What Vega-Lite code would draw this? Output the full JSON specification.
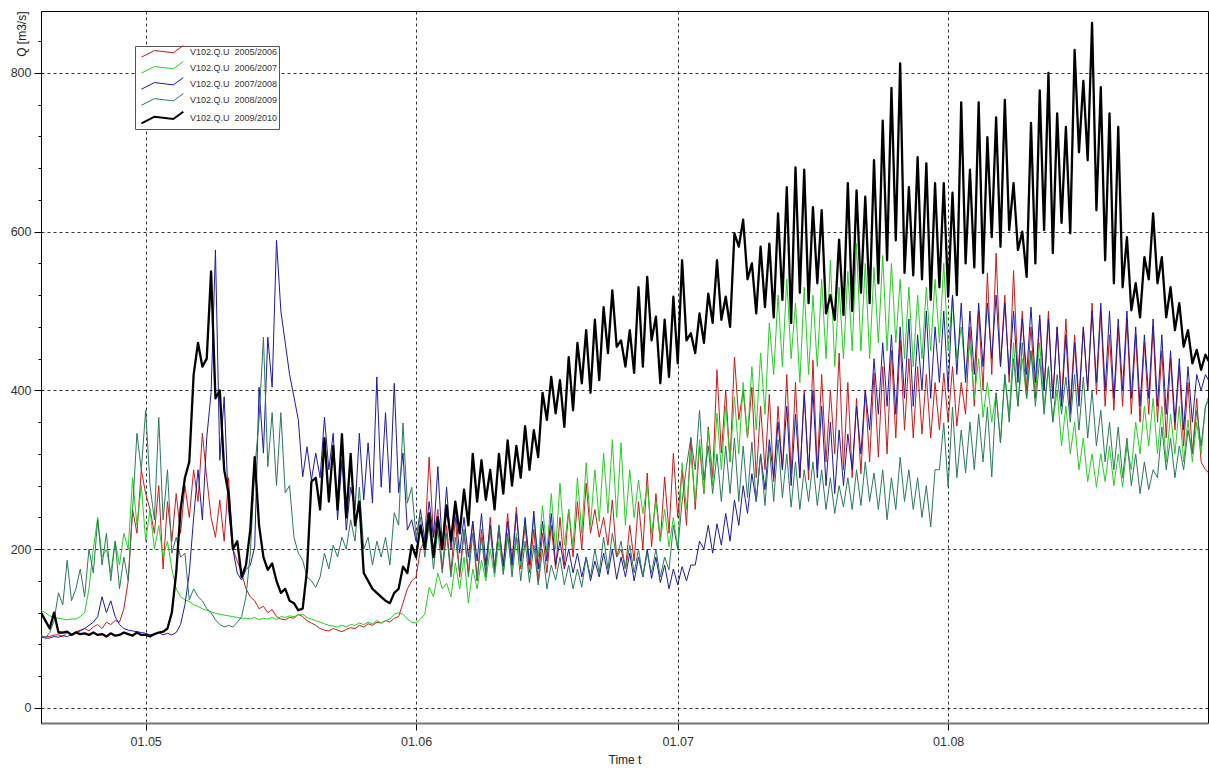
{
"$schema": "https://vega.github.io/schema/vega-lite/v6.json",
"width": 1167, "height": 712,
"autosize": {"type": "none"},
"padding": {"left": 41, "top": 11, "right": 1, "bottom": 47},
"background": "white",
"config": {"view": {"stroke": "#000", "strokeWidth": 1}, "font": "Liberation Sans"},
"data": {"values": [
{"t":"2010-04-19T00:00","a":88,"b":123,"c":90,"d":92,"e":120},{"t":"2010-04-19T12:00","a":90,"b":120,"c":88,"d":88,"e":110},
{"t":"2010-04-20T00:00","a":90,"b":116,"c":88,"d":95,"e":100},{"t":"2010-04-20T12:00","a":92,"b":114,"c":90,"d":110,"e":120},
{"t":"2010-04-21T00:00","a":92,"b":113,"c":89,"d":145,"e":95},{"t":"2010-04-21T12:00","a":90,"b":112,"c":91,"d":130,"e":95},
{"t":"2010-04-22T00:00","a":95,"b":111,"c":90,"d":186,"e":96},{"t":"2010-04-22T12:00","a":93,"b":112,"c":92,"d":135,"e":92},
{"t":"2010-04-23T00:00","a":96,"b":112,"c":95,"d":150,"e":95},{"t":"2010-04-23T12:00","a":98,"b":115,"c":97,"d":175,"e":93},
{"t":"2010-04-24T00:00","a":100,"b":120,"c":100,"d":140,"e":94},{"t":"2010-04-24T12:00","a":97,"b":150,"c":104,"d":200,"e":92},
{"t":"2010-04-25T00:00","a":102,"b":200,"c":108,"d":170,"e":95},{"t":"2010-04-25T12:00","a":105,"b":240,"c":115,"d":237,"e":92},
{"t":"2010-04-26T00:00","a":100,"b":190,"c":140,"d":180,"e":93},{"t":"2010-04-26T12:00","a":108,"b":200,"c":120,"d":220,"e":90},
{"t":"2010-04-27T00:00","a":105,"b":170,"c":135,"d":160,"e":94},{"t":"2010-04-27T12:00","a":110,"b":210,"c":115,"d":210,"e":91},
{"t":"2010-04-28T00:00","a":108,"b":180,"c":105,"d":150,"e":92},{"t":"2010-04-28T12:00","a":125,"b":220,"c":100,"d":190,"e":95},
{"t":"2010-04-29T00:00","a":160,"b":200,"c":98,"d":160,"e":93},{"t":"2010-04-29T12:00","a":250,"b":290,"c":97,"d":250,"e":91},
{"t":"2010-04-30T00:00","a":220,"b":230,"c":96,"d":346,"e":95},{"t":"2010-04-30T12:00","a":300,"b":280,"c":95,"d":300,"e":92},
{"t":"2010-05-01T00:00","a":270,"b":210,"c":94,"d":375,"e":92},{"t":"2010-05-01T12:00","a":250,"b":250,"c":92,"d":280,"e":90},
{"t":"2010-05-02T00:00","a":220,"b":200,"c":93,"d":237,"e":93},{"t":"2010-05-02T12:00","a":280,"b":230,"c":95,"d":366,"e":95},
{"t":"2010-05-03T00:00","a":175,"b":190,"c":92,"d":237,"e":96},{"t":"2010-05-03T12:00","a":260,"b":210,"c":94,"d":300,"e":100},
{"t":"2010-05-04T00:00","a":210,"b":175,"c":92,"d":195,"e":120},{"t":"2010-05-04T12:00","a":270,"b":150,"c":95,"d":215,"e":170},
{"t":"2010-05-05T00:00","a":220,"b":140,"c":105,"d":190,"e":250},{"t":"2010-05-05T12:00","a":280,"b":136,"c":130,"d":195,"e":290},
{"t":"2010-05-06T00:00","a":240,"b":134,"c":170,"d":136,"e":310},{"t":"2010-05-06T12:00","a":300,"b":130,"c":240,"d":150,"e":420},
{"t":"2010-05-07T00:00","a":260,"b":128,"c":300,"d":140,"e":460},{"t":"2010-05-07T12:00","a":346,"b":125,"c":237,"d":135,"e":430},
{"t":"2010-05-08T00:00","a":290,"b":123,"c":340,"d":125,"e":440},{"t":"2010-05-08T12:00","a":240,"b":121,"c":397,"d":120,"e":550},
{"t":"2010-05-09T00:00","a":215,"b":119,"c":577,"d":111,"e":390},{"t":"2010-05-09T12:00","a":262,"b":118,"c":312,"d":105,"e":400},
{"t":"2010-05-10T00:00","a":210,"b":117,"c":392,"d":102,"e":300},{"t":"2010-05-10T12:00","a":290,"b":116,"c":250,"d":104,"e":270},
{"t":"2010-05-11T00:00","a":200,"b":115,"c":200,"d":102,"e":200},{"t":"2010-05-11T12:00","a":185,"b":114,"c":170,"d":108,"e":210},
{"t":"2010-05-12T00:00","a":170,"b":113,"c":161,"d":115,"e":165},{"t":"2010-05-12T12:00","a":150,"b":113,"c":174,"d":140,"e":180},
{"t":"2010-05-13T00:00","a":140,"b":112,"c":180,"d":195,"e":225},{"t":"2010-05-13T12:00","a":135,"b":114,"c":203,"d":300,"e":316},
{"t":"2010-05-14T00:00","a":125,"b":111,"c":404,"d":363,"e":230},{"t":"2010-05-14T12:00","a":128,"b":113,"c":321,"d":467,"e":190},
{"t":"2010-05-15T00:00","a":120,"b":112,"c":467,"d":304,"e":174},{"t":"2010-05-15T12:00","a":124,"b":114,"c":404,"d":372,"e":182},
{"t":"2010-05-16T00:00","a":115,"b":111,"c":589,"d":280,"e":160},{"t":"2010-05-16T12:00","a":112,"b":115,"c":500,"d":372,"e":145},
{"t":"2010-05-17T00:00","a":111,"b":114,"c":460,"d":271,"e":150},{"t":"2010-05-17T12:00","a":114,"b":116,"c":420,"d":280,"e":135},
{"t":"2010-05-18T00:00","a":113,"b":115,"c":392,"d":215,"e":132},{"t":"2010-05-18T12:00","a":118,"b":117,"c":363,"d":195,"e":123},
{"t":"2010-05-19T00:00","a":115,"b":118,"c":291,"d":186,"e":125},{"t":"2010-05-19T12:00","a":110,"b":114,"c":329,"d":165,"e":174},
{"t":"2010-05-20T00:00","a":107,"b":112,"c":287,"d":160,"e":285},{"t":"2010-05-20T12:00","a":104,"b":110,"c":321,"d":152,"e":290},
{"t":"2010-05-21T00:00","a":100,"b":108,"c":290,"d":165,"e":250},{"t":"2010-05-21T12:00","a":98,"b":106,"c":366,"d":195,"e":340},
{"t":"2010-05-22T00:00","a":97,"b":104,"c":300,"d":175,"e":260},{"t":"2010-05-22T12:00","a":100,"b":103,"c":346,"d":205,"e":330},
{"t":"2010-05-23T00:00","a":98,"b":102,"c":237,"d":190,"e":250},{"t":"2010-05-23T12:00","a":96,"b":104,"c":312,"d":215,"e":345},
{"t":"2010-05-24T00:00","a":99,"b":102,"c":224,"d":200,"e":240},{"t":"2010-05-24T12:00","a":101,"b":105,"c":278,"d":237,"e":320},
{"t":"2010-05-25T00:00","a":100,"b":104,"c":249,"d":210,"e":230},{"t":"2010-05-25T12:00","a":104,"b":107,"c":346,"d":278,"e":260},
{"t":"2010-05-26T00:00","a":102,"b":105,"c":262,"d":200,"e":170},{"t":"2010-05-26T12:00","a":106,"b":108,"c":334,"d":215,"e":160},
{"t":"2010-05-27T00:00","a":104,"b":106,"c":258,"d":180,"e":150},{"t":"2010-05-27T12:00","a":108,"b":110,"c":417,"d":210,"e":145},
{"t":"2010-05-28T00:00","a":107,"b":107,"c":278,"d":190,"e":140},{"t":"2010-05-28T12:00","a":110,"b":110,"c":372,"d":215,"e":135},
{"t":"2010-05-29T00:00","a":108,"b":112,"c":271,"d":180,"e":132},{"t":"2010-05-29T12:00","a":113,"b":118,"c":409,"d":246,"e":145},
{"t":"2010-05-30T00:00","a":115,"b":120,"c":271,"d":230,"e":150},{"t":"2010-05-30T12:00","a":132,"b":118,"c":321,"d":359,"e":178},
{"t":"2010-05-31T00:00","a":150,"b":112,"c":224,"d":258,"e":170},{"t":"2010-05-31T12:00","a":160,"b":108,"c":237,"d":278,"e":205},
{"t":"2010-06-01T00:00","a":165,"b":107,"c":210,"d":215,"e":190},{"t":"2010-06-01T12:00","a":200,"b":112,"c":250,"d":240,"e":230},
{"t":"2010-06-02T00:00","a":210,"b":118,"c":212,"d":190,"e":200},{"t":"2010-06-02T12:00","a":316,"b":152,"c":260,"d":230,"e":245},
{"t":"2010-06-03T00:00","a":215,"b":140,"c":215,"d":175,"e":190},{"t":"2010-06-03T12:00","a":250,"b":170,"c":304,"d":225,"e":240},
{"t":"2010-06-04T00:00","a":175,"b":150,"c":203,"d":170,"e":200},{"t":"2010-06-04T12:00","a":230,"b":157,"c":278,"d":220,"e":255},
{"t":"2010-06-05T00:00","a":170,"b":140,"c":200,"d":165,"e":210},{"t":"2010-06-05T12:00","a":240,"b":183,"c":250,"d":215,"e":260},
{"t":"2010-06-06T00:00","a":165,"b":150,"c":195,"d":170,"e":220},{"t":"2010-06-06T12:00","a":220,"b":190,"c":240,"d":225,"e":275},
{"t":"2010-06-07T00:00","a":170,"b":132,"c":190,"d":165,"e":230},{"t":"2010-06-07T12:00","a":235,"b":175,"c":235,"d":220,"e":320},
{"t":"2010-06-08T00:00","a":160,"b":150,"c":185,"d":160,"e":260},{"t":"2010-06-08T12:00","a":225,"b":186,"c":245,"d":215,"e":312},
{"t":"2010-06-09T00:00","a":170,"b":160,"c":180,"d":165,"e":262},{"t":"2010-06-09T12:00","a":240,"b":200,"c":230,"d":225,"e":300},
{"t":"2010-06-10T00:00","a":175,"b":165,"c":175,"d":170,"e":250},{"t":"2010-06-10T12:00","a":230,"b":210,"c":225,"d":230,"e":320},
{"t":"2010-06-11T00:00","a":180,"b":170,"c":178,"d":168,"e":270},{"t":"2010-06-11T12:00","a":245,"b":215,"c":235,"d":220,"e":337},
{"t":"2010-06-12T00:00","a":185,"b":175,"c":180,"d":165,"e":280},{"t":"2010-06-12T12:00","a":253,"b":220,"c":245,"d":215,"e":330},
{"t":"2010-06-13T00:00","a":175,"b":180,"c":185,"d":160,"e":290},{"t":"2010-06-13T12:00","a":230,"b":237,"c":240,"d":210,"e":355},
{"t":"2010-06-14T00:00","a":170,"b":185,"c":180,"d":158,"e":300},{"t":"2010-06-14T12:00","a":225,"b":240,"c":248,"d":205,"e":350},
{"t":"2010-06-15T00:00","a":160,"b":190,"c":175,"d":155,"e":316},{"t":"2010-06-15T12:00","a":220,"b":255,"c":235,"d":200,"e":397},
{"t":"2010-06-16T00:00","a":170,"b":195,"c":185,"d":150,"e":363},{"t":"2010-06-16T12:00","a":230,"b":270,"c":245,"d":180,"e":417},
{"t":"2010-06-17T00:00","a":175,"b":200,"c":180,"d":161,"e":371},{"t":"2010-06-17T12:00","a":240,"b":283,"c":210,"d":190,"e":413},
{"t":"2010-06-18T00:00","a":180,"b":205,"c":175,"d":155,"e":354},{"t":"2010-06-18T12:00","a":250,"b":250,"c":200,"d":180,"e":442},
{"t":"2010-06-19T00:00","a":190,"b":203,"c":170,"d":150,"e":375},{"t":"2010-06-19T12:00","a":260,"b":290,"c":195,"d":175,"e":460},
{"t":"2010-06-20T00:00","a":200,"b":220,"c":165,"d":152,"e":409},{"t":"2010-06-20T12:00","a":283,"b":309,"c":190,"d":190,"e":476},
{"t":"2010-06-21T00:00","a":220,"b":230,"c":160,"d":165,"e":397},{"t":"2010-06-21T12:00","a":250,"b":300,"c":185,"d":200,"e":489},
{"t":"2010-06-22T00:00","a":215,"b":235,"c":165,"d":170,"e":413},{"t":"2010-06-22T12:00","a":240,"b":321,"c":195,"d":215,"e":505},
{"t":"2010-06-23T00:00","a":205,"b":245,"c":168,"d":175,"e":447},{"t":"2010-06-23T12:00","a":262,"b":338,"c":200,"d":220,"e":526},
{"t":"2010-06-24T00:00","a":190,"b":240,"c":162,"d":190,"e":455},{"t":"2010-06-24T12:00","a":200,"b":334,"c":190,"d":210,"e":463},
{"t":"2010-06-25T00:00","a":175,"b":230,"c":165,"d":175,"e":430},{"t":"2010-06-25T12:00","a":230,"b":300,"c":195,"d":205,"e":476},
{"t":"2010-06-26T00:00","a":185,"b":240,"c":160,"d":170,"e":422},{"t":"2010-06-26T12:00","a":260,"b":287,"c":190,"d":200,"e":530},
{"t":"2010-06-27T00:00","a":200,"b":245,"c":165,"d":165,"e":430},{"t":"2010-06-27T12:00","a":296,"b":280,"c":200,"d":195,"e":543},
{"t":"2010-06-28T00:00","a":203,"b":220,"c":163,"d":170,"e":463},{"t":"2010-06-28T12:00","a":270,"b":260,"c":190,"d":200,"e":493},
{"t":"2010-06-29T00:00","a":210,"b":210,"c":158,"d":165,"e":409},{"t":"2010-06-29T12:00","a":291,"b":250,"c":180,"d":190,"e":489},
{"t":"2010-06-30T00:00","a":220,"b":203,"c":150,"d":174,"e":417},{"t":"2010-06-30T12:00","a":321,"b":240,"c":175,"d":230,"e":518},
{"t":"2010-07-01T00:00","a":240,"b":200,"c":155,"d":200,"e":434},{"t":"2010-07-01T12:00","a":300,"b":309,"c":178,"d":260,"e":564},
{"t":"2010-07-02T00:00","a":230,"b":250,"c":160,"d":304,"e":463},{"t":"2010-07-02T12:00","a":341,"b":320,"c":180,"d":340,"e":472},
{"t":"2010-07-03T00:00","a":250,"b":260,"c":180,"d":300,"e":447},{"t":"2010-07-03T12:00","a":330,"b":338,"c":210,"d":375,"e":497},
{"t":"2010-07-04T00:00","a":270,"b":270,"c":200,"d":287,"e":460},{"t":"2010-07-04T12:00","a":354,"b":350,"c":230,"d":330,"e":522},
{"t":"2010-07-05T00:00","a":290,"b":280,"c":195,"d":270,"e":485},{"t":"2010-07-05T12:00","a":426,"b":371,"c":232,"d":320,"e":564},
{"t":"2010-07-06T00:00","a":321,"b":300,"c":205,"d":260,"e":489},{"t":"2010-07-06T12:00","a":400,"b":380,"c":245,"d":330,"e":518},
{"t":"2010-07-07T00:00","a":310,"b":310,"c":210,"d":270,"e":480},{"t":"2010-07-07T12:00","a":442,"b":392,"c":262,"d":340,"e":598},
{"t":"2010-07-08T00:00","a":363,"b":320,"c":230,"d":260,"e":581},{"t":"2010-07-08T12:00","a":400,"b":410,"c":280,"d":330,"e":615},
{"t":"2010-07-09T00:00","a":340,"b":340,"c":245,"d":265,"e":540},{"t":"2010-07-09T12:00","a":404,"b":430,"c":295,"d":335,"e":560},
{"t":"2010-07-10T00:00","a":290,"b":350,"c":260,"d":260,"e":497},{"t":"2010-07-10T12:00","a":380,"b":447,"c":320,"d":320,"e":581},
{"t":"2010-07-11T00:00","a":300,"b":370,"c":275,"d":255,"e":505},{"t":"2010-07-11T12:00","a":395,"b":485,"c":338,"d":330,"e":585},
{"t":"2010-07-12T00:00","a":285,"b":420,"c":290,"d":260,"e":492},{"t":"2010-07-12T12:00","a":380,"b":520,"c":360,"d":338,"e":623},
{"t":"2010-07-13T00:00","a":300,"b":430,"c":300,"d":265,"e":514},{"t":"2010-07-13T12:00","a":420,"b":540,"c":380,"d":320,"e":656},
{"t":"2010-07-14T00:00","a":295,"b":440,"c":280,"d":253,"e":485},{"t":"2010-07-14T12:00","a":410,"b":510,"c":370,"d":310,"e":681},
{"t":"2010-07-15T00:00","a":290,"b":410,"c":290,"d":250,"e":523},{"t":"2010-07-15T12:00","a":400,"b":530,"c":395,"d":300,"e":678},
{"t":"2010-07-16T00:00","a":287,"b":420,"c":300,"d":260,"e":510},{"t":"2010-07-16T12:00","a":438,"b":520,"c":400,"d":310,"e":631},
{"t":"2010-07-17T00:00","a":300,"b":430,"c":290,"d":255,"e":535},{"t":"2010-07-17T12:00","a":420,"b":540,"c":380,"d":300,"e":627},
{"t":"2010-07-18T00:00","a":310,"b":440,"c":280,"d":250,"e":497},{"t":"2010-07-18T12:00","a":400,"b":564,"c":360,"d":290,"e":520},
{"t":"2010-07-19T00:00","a":320,"b":430,"c":270,"d":245,"e":489},{"t":"2010-07-19T12:00","a":447,"b":530,"c":350,"d":280,"e":590},
{"t":"2010-07-20T00:00","a":300,"b":440,"c":280,"d":253,"e":495},{"t":"2010-07-20T12:00","a":410,"b":550,"c":345,"d":290,"e":661},
{"t":"2010-07-21T00:00","a":290,"b":450,"c":300,"d":250,"e":500},{"t":"2010-07-21T12:00","a":390,"b":585,"c":380,"d":300,"e":652},
{"t":"2010-07-22T00:00","a":295,"b":450,"c":320,"d":255,"e":523},{"t":"2010-07-22T12:00","a":400,"b":560,"c":400,"d":310,"e":644},
{"t":"2010-07-23T00:00","a":310,"b":440,"c":350,"d":260,"e":510},{"t":"2010-07-23T12:00","a":422,"b":555,"c":440,"d":296,"e":690},
{"t":"2010-07-24T00:00","a":316,"b":460,"c":370,"d":250,"e":535},{"t":"2010-07-24T12:00","a":430,"b":570,"c":460,"d":300,"e":740},
{"t":"2010-07-25T00:00","a":320,"b":450,"c":380,"d":237,"e":564},{"t":"2010-07-25T12:00","a":450,"b":560,"c":470,"d":290,"e":781},
{"t":"2010-07-26T00:00","a":340,"b":460,"c":370,"d":250,"e":589},{"t":"2010-07-26T12:00","a":463,"b":540,"c":480,"d":316,"e":812},
{"t":"2010-07-27T00:00","a":350,"b":440,"c":390,"d":260,"e":548},{"t":"2010-07-27T12:00","a":440,"b":530,"c":490,"d":300,"e":656},
{"t":"2010-07-28T00:00","a":340,"b":430,"c":380,"d":250,"e":545},{"t":"2010-07-28T12:00","a":430,"b":520,"c":470,"d":290,"e":694},
{"t":"2010-07-29T00:00","a":345,"b":440,"c":400,"d":240,"e":540},{"t":"2010-07-29T12:00","a":420,"b":530,"c":500,"d":280,"e":686},
{"t":"2010-07-30T00:00","a":340,"b":450,"c":390,"d":228,"e":514},{"t":"2010-07-30T12:00","a":410,"b":540,"c":480,"d":300,"e":661},
{"t":"2010-07-31T00:00","a":350,"b":460,"c":410,"d":300,"e":530},{"t":"2010-07-31T12:00","a":422,"b":560,"c":500,"d":359,"e":661},
{"t":"2010-08-01T00:00","a":360,"b":450,"c":400,"d":278,"e":518},{"t":"2010-08-01T12:00","a":430,"b":520,"c":520,"d":379,"e":649},
{"t":"2010-08-02T00:00","a":355,"b":440,"c":420,"d":290,"e":520},{"t":"2010-08-02T12:00","a":410,"b":480,"c":510,"d":350,"e":763},
{"t":"2010-08-03T00:00","a":370,"b":420,"c":410,"d":296,"e":560},{"t":"2010-08-03T12:00","a":480,"b":460,"c":500,"d":360,"e":678},
{"t":"2010-08-04T00:00","a":380,"b":390,"c":420,"d":300,"e":555},{"t":"2010-08-04T12:00","a":500,"b":440,"c":510,"d":370,"e":763},
{"t":"2010-08-05T00:00","a":400,"b":366,"c":430,"d":310,"e":548},{"t":"2010-08-05T12:00","a":548,"b":410,"c":510,"d":379,"e":719},
{"t":"2010-08-06T00:00","a":420,"b":360,"c":440,"d":291,"e":593},{"t":"2010-08-06T12:00","a":573,"b":397,"c":520,"d":397,"e":744},
{"t":"2010-08-07T00:00","a":430,"b":334,"c":430,"d":334,"e":581},{"t":"2010-08-07T12:00","a":520,"b":420,"c":510,"d":420,"e":766},
{"t":"2010-08-08T00:00","a":410,"b":370,"c":420,"d":360,"e":602},{"t":"2010-08-08T12:00","a":551,"b":460,"c":500,"d":440,"e":661},
{"t":"2010-08-09T00:00","a":420,"b":380,"c":410,"d":380,"e":577},{"t":"2010-08-09T12:00","a":500,"b":440,"c":490,"d":460,"e":600},
{"t":"2010-08-10T00:00","a":400,"b":390,"c":420,"d":390,"e":543},{"t":"2010-08-10T12:00","a":480,"b":450,"c":505,"d":450,"e":737},
{"t":"2010-08-11T00:00","a":390,"b":400,"c":410,"d":380,"e":560},{"t":"2010-08-11T12:00","a":490,"b":460,"c":495,"d":440,"e":778},
{"t":"2010-08-12T00:00","a":400,"b":380,"c":400,"d":370,"e":602},{"t":"2010-08-12T12:00","a":500,"b":430,"c":490,"d":430,"e":800},
{"t":"2010-08-13T00:00","a":390,"b":360,"c":390,"d":360,"e":573},{"t":"2010-08-13T12:00","a":480,"b":400,"c":480,"d":420,"e":749},
{"t":"2010-08-14T00:00","a":385,"b":330,"c":380,"d":370,"e":611},{"t":"2010-08-14T12:00","a":490,"b":380,"c":470,"d":417,"e":732},
{"t":"2010-08-15T00:00","a":380,"b":320,"c":370,"d":360,"e":598},{"t":"2010-08-15T12:00","a":470,"b":360,"c":460,"d":420,"e":829},
{"t":"2010-08-16T00:00","a":390,"b":300,"c":380,"d":350,"e":700},{"t":"2010-08-16T12:00","a":480,"b":340,"c":480,"d":417,"e":790},
{"t":"2010-08-17T00:00","a":400,"b":285,"c":400,"d":340,"e":690},{"t":"2010-08-17T12:00","a":510,"b":320,"c":500,"d":400,"e":863},
{"t":"2010-08-18T00:00","a":395,"b":278,"c":410,"d":330,"e":627},{"t":"2010-08-18T12:00","a":500,"b":320,"c":510,"d":375,"e":782},
{"t":"2010-08-19T00:00","a":380,"b":285,"c":400,"d":310,"e":564},{"t":"2010-08-19T12:00","a":470,"b":330,"c":500,"d":360,"e":749},
{"t":"2010-08-20T00:00","a":375,"b":280,"c":390,"d":300,"e":535},{"t":"2010-08-20T12:00","a":480,"b":320,"c":490,"d":354,"e":732},
{"t":"2010-08-21T00:00","a":380,"b":278,"c":400,"d":290,"e":530},{"t":"2010-08-21T12:00","a":490,"b":330,"c":500,"d":340,"e":593},
{"t":"2010-08-22T00:00","a":370,"b":300,"c":390,"d":280,"e":501},{"t":"2010-08-22T12:00","a":470,"b":360,"c":480,"d":320,"e":535},
{"t":"2010-08-23T00:00","a":360,"b":320,"c":380,"d":270,"e":492},{"t":"2010-08-23T12:00","a":460,"b":380,"c":470,"d":310,"e":568},
{"t":"2010-08-24T00:00","a":370,"b":330,"c":390,"d":275,"e":540},{"t":"2010-08-24T12:00","a":480,"b":390,"c":490,"d":300,"e":623},
{"t":"2010-08-25T00:00","a":360,"b":320,"c":380,"d":290,"e":535},{"t":"2010-08-25T12:00","a":450,"b":380,"c":470,"d":354,"e":568},
{"t":"2010-08-26T00:00","a":340,"b":310,"c":370,"d":300,"e":492},{"t":"2010-08-26T12:00","a":440,"b":370,"c":450,"d":340,"e":530},
{"t":"2010-08-27T00:00","a":350,"b":320,"c":360,"d":290,"e":476},{"t":"2010-08-27T12:00","a":430,"b":380,"c":440,"d":330,"e":510},
{"t":"2010-08-28T00:00","a":330,"b":310,"c":350,"d":300,"e":455},{"t":"2010-08-28T12:00","a":410,"b":363,"c":430,"d":350,"e":476},
{"t":"2010-08-29T00:00","a":320,"b":310,"c":360,"d":320,"e":434},{"t":"2010-08-29T12:00","a":390,"b":360,"c":420,"d":375,"e":451},
{"t":"2010-08-30T00:00","a":310,"b":320,"c":400,"d":330,"e":426},{"t":"2010-08-30T12:00","a":300,"b":380,"c":420,"d":380,"e":445},
{"t":"2010-08-31T00:00","a":295,"b":397,"c":410,"d":390,"e":434}
]},
"transform": [{"fold": ["a", "b", "c", "d", "e"], "as": ["k", "q"]}],
"mark": {"type": "line", "clip": true, "strokeJoin": "round"},
"encoding": {
  "x": {"field": "t", "type": "temporal",
    "scale": {"domain": [{"year": 2010, "month": 4, "date": 19}, {"year": 2010, "month": 8, "date": 30, "hours": 19}]},
    "axis": {"values": [{"year": 2010, "month": 5, "date": 1}, {"year": 2010, "month": 6, "date": 1}, {"year": 2010, "month": 7, "date": 1}, {"year": 2010, "month": 8, "date": 1}],
      "format": "%d.%m", "grid": true, "gridDash": [3, 3], "gridColor": "#000", "gridOpacity": 0.8,
      "domainColor": "#777", "domainWidth": 2, "tickColor": "#000", "tickSize": 7,
      "labelFontSize": 12.5, "labelColor": "#333", "labelPadding": 5, "labelFlush": false,
      "title": "Time t", "titleFontSize": 12, "titleFontWeight": "normal", "titleColor": "#222", "titlePadding": 7}},
  "y": {"field": "q", "type": "quantitative",
    "scale": {"domain": [-19, 878], "nice": false, "zero": false},
    "axis": {"values": [0, 40, 80, 120, 160, 200, 240, 280, 320, 360, 400, 440, 480, 520, 560, 600, 640, 680, 720, 760, 800, 840],
      "labelExpr": "datum.value % 200 === 0 ? datum.label : ''",
      "tickSize": {"condition": {"test": "datum.value % 200 === 0", "value": 7}, "value": 3},
      "grid": true, "gridDash": [3, 3], "gridColor": "#000",
      "gridOpacity": {"condition": {"test": "datum.value % 200 === 0", "value": 0.8}, "value": 0},
      "domainColor": "#000", "domainWidth": 1, "tickColor": "#000",
      "labelFontSize": 12.5, "labelColor": "#333", "labelPadding": 3,
      "title": "Q [m3/s]", "titleFontSize": 12, "titleFontWeight": "normal", "titleColor": "#222",
      "titleAngle": 270, "titleX": -20, "titleY": 0, "titleAlign": "right", "titleBaseline": "middle"}},
  "color": {"field": "k", "type": "nominal",
    "scale": {"domain": ["a", "b", "c", "d", "e"], "range": ["#d01818", "#22d022", "#1a1aa8", "#2a7a58", "#000000"]},
    "legend": {"orient": "none", "legendX": 94, "legendY": 35, "title": null, "direction": "vertical",
      "symbolType": "M0.12,0.7L1.75,-0.13L4.1,0.16L5.35,-0.75", "symbolSize": 256, "symbolStrokeWidth": 1,
      "labelFontSize": 9, "labelColor": "#333", "labelOffset": 45,
      "labelExpr": "datum.label == 'a' ? 'V102.Q.U \u00a02005/2006' : datum.label == 'b' ? 'V102.Q.U \u00a02006/2007' : datum.label == 'c' ? 'V102.Q.U \u00a02007/2008' : datum.label == 'd' ? 'V102.Q.U \u00a02008/2009' : 'V102.Q.U \u00a02009/2010'",
      "fillColor": "white", "strokeColor": "#555", "padding": 1, "rowPadding": -0.95,
      "encode": {"symbols": {"update": {"strokeWidth": {"signal": "datum.value === 'e' ? 2 : 1"}}}}}},
  "strokeWidth": {"condition": {"test": "datum.k === 'e'", "value": 2.3}, "value": 1}
}
}
